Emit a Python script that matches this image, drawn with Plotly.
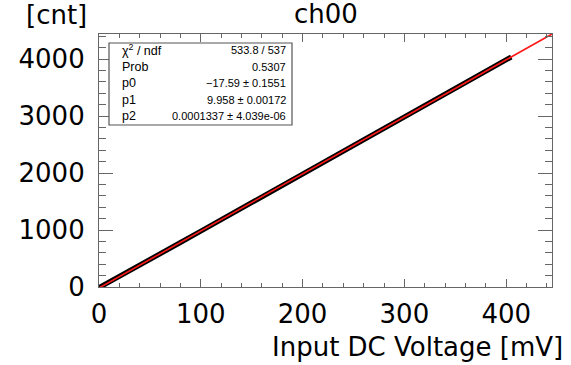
import plotly.graph_objects as go

# Measured data (Input DC voltage [mV] vs counts)
data_x = [0, 20, 40, 60, 80, 100, 120, 140, 160, 180, 200, 220, 240, 260, 280,
          300, 320, 340, 360, 380, 400, 405]
data_y = [-10, 182, 381, 580, 780, 980, 1179, 1379, 1579, 1779, 1979, 2180, 2380,
          2580, 2781, 2982, 3183, 3384, 3585, 3786, 3987, 4037]

# Fit curve (pol2) sampled points
fit_x = [0, 50, 100, 150, 200, 250, 300, 350, 400, 445]
fit_y = [-17.6, 480.6, 979.5, 1479.1, 1979.4, 2480.3, 2981.8, 3484.1, 3987.0, 4440.2]

stat_labels = ["χ<sup>2</sup> / ndf", "Prob", "p0", "p1", "p2"]
stat_values = ["533.8 / 537", "0.5307", "−17.59 ± 0.1551", "9.958 ± 0.00172",
               "0.0001337 ± 4.039e-06"]

x_ticks = [0, 100, 200, 300, 400]
y_ticks = [0, 1000, 2000, 3000, 4000]

BIG = dict(family="DejaVu Sans", size=26, color="black")
AX = "#666666"

fig = go.Figure()
fig.add_trace(go.Scatter(x=data_x, y=data_y, mode="lines",
                         line=dict(color="black", width=5), showlegend=False))
fig.add_trace(go.Scatter(x=fit_x, y=fit_y, mode="lines",
                         line=dict(color="#ff1a1a", width=1.6), showlegend=False))

W, H = 571, 365
L, R, T, B = 99, 19, 34, 78
pw, ph = W - L - R, H - T - B

def px(x):
    return (x - L) / pw

def py(y):
    return (H - B - y) / ph

fig.update_layout(
    width=W, height=H,
    margin=dict(l=L, r=R, t=T, b=B),
    paper_bgcolor="white", plot_bgcolor="white",
    xaxis=dict(range=[0, 445], tickvals=x_ticks, ticks="inside", ticklen=8,
               tickcolor=AX, showline=True, linecolor=AX, linewidth=1.2,
               mirror="allticks", showgrid=False, zeroline=False,
               tickfont=BIG, ticklabelstandoff=4,
               minor=dict(dtick=20, ticks="inside", ticklen=4, tickcolor=AX,
                          showgrid=False)),
    yaxis=dict(range=[0, 4440], tickvals=y_ticks, ticks="inside", ticklen=14,
               tickcolor=AX, showline=True, linecolor=AX, linewidth=1.2,
               mirror="allticks", showgrid=False, zeroline=False,
               tickfont=BIG, ticklabelstandoff=8,
               minor=dict(dtick=200, ticks="inside", ticklen=7, tickcolor=AX,
                          showgrid=False)),
)

annotations = [
    dict(text="ch00", x=px(326), y=py(14), xref="paper", yref="paper",
         showarrow=False, font=BIG, xanchor="center", yanchor="middle"),
    dict(text="[cnt]", x=px(89), y=py(15), xref="paper", yref="paper",
         showarrow=False, font=BIG, xanchor="right", yanchor="middle"),
    dict(text="Input DC Voltage [mV]", x=px(565), y=py(347), xref="paper",
         yref="paper", showarrow=False, font=BIG, xanchor="right",
         yanchor="middle"),
]

# stats box
box_l, box_r, box_t, box_b = 109, 292, 43, 125
fig.add_shape(type="rect", xref="paper", yref="paper",
              x0=px(box_l), x1=px(box_r), y0=py(box_b), y1=py(box_t),
              line=dict(color="#555555", width=1.2), fillcolor="white")
row_y = [50, 67, 83, 100, 116]
LF = dict(family="Liberation Sans, Arial", size=12.5, color="black")
VF = dict(family="Liberation Sans, Arial", size=11, color="black")
for lab, val, ry in zip(stat_labels, stat_values, row_y):
    annotations.append(dict(text=lab, x=px(120), y=py(ry), xref="paper",
                            yref="paper", showarrow=False, font=LF,
                            xanchor="left", yanchor="middle"))
    annotations.append(dict(text=val, x=px(288), y=py(ry), xref="paper",
                            yref="paper", showarrow=False, font=VF,
                            xanchor="right", yanchor="middle"))

fig.update_layout(annotations=annotations)
fig.write_html("out.html", config={"displayModeBar": False},
               post_script="document.body.style.margin='0px';document.body.style.overflow='hidden';")
